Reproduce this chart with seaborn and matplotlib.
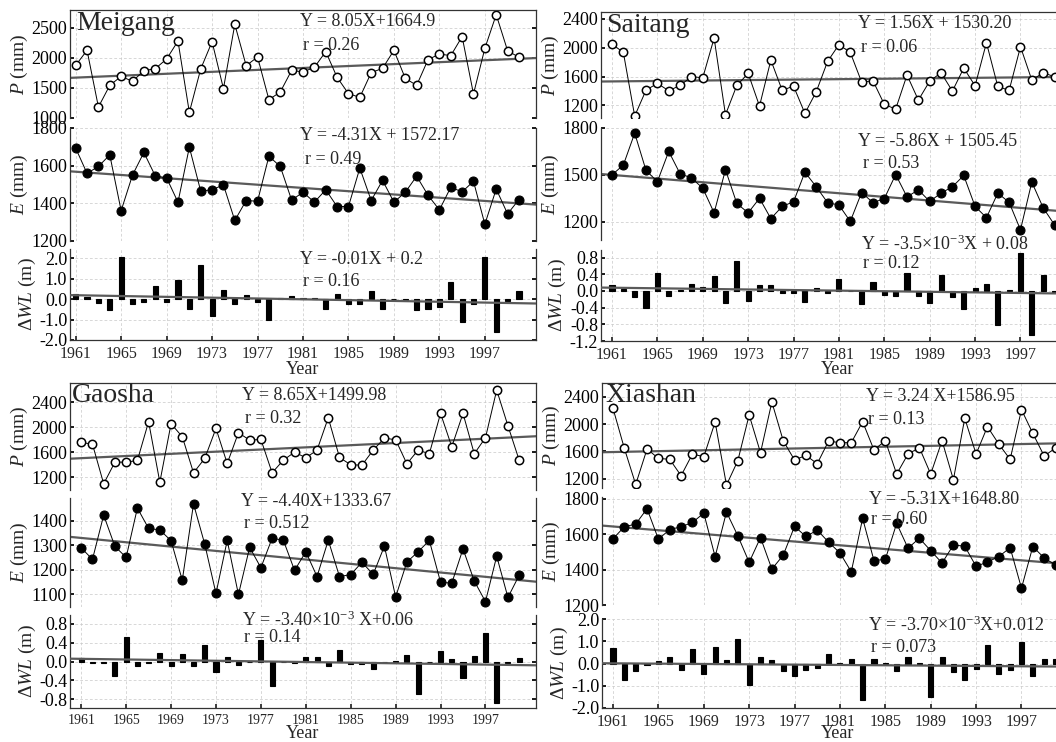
import numpy as np
import pandas as pd
import matplotlib
matplotlib.use('Agg')
import matplotlib.pyplot as plt
from matplotlib.ticker import FormatStrFormatter
import seaborn as sns

# annual series 1961-2000
years = list(range(1961, 2001))

meigang_p = [1878, 2128, 1183, 1544, 1694, 1611, 1789, 1822, 1983, 2283,
             1094, 1817, 2272, 1489, 2561, 1872, 2017, 1306, 1433, 1794,
             1767, 1844, 2106, 1678, 1406, 1344, 1756, 1828, 2128, 1661,
             1544, 1972, 2067, 2039, 2356, 1400, 2161, 2722, 2122, 2011]
meigang_e = [1693, 1559, 1596, 1657, 1361, 1550, 1670, 1546, 1535, 1406,
             1698, 1465, 1472, 1498, 1309, 1415, 1411, 1650, 1596, 1417,
             1459, 1406, 1472, 1383, 1383, 1587, 1415, 1522, 1406, 1459,
             1544, 1443, 1365, 1485, 1461, 1517, 1289, 1476, 1344, 1420]
meigang_wl = [0.25, 0.1, -0.2, -0.55, 2.05, -0.25, -0.15, 0.65, -0.15, 0.95,
              -0.5, 1.65, -0.85, 0.45, -0.25, 0.2, -0.15, -1.0, 0.05, 0.15,
              0.05, 0.05, -0.5, 0.25, -0.25, -0.25, 0.4, -0.5, 0.02, -0.02,
              -0.55, -0.5, -0.4, 0.85, -1.1, -0.25, 2.05, -1.6, -0.1, 0.4]

saitang_p = [2051, 1935, 1050, 1411, 1504, 1402, 1476, 1597, 1583, 2134,
             1068, 1476, 1643, 1189, 1828, 1407, 1467, 1087, 1388, 1810,
             2042, 1935, 1522, 1541, 1212, 1147, 1620, 1272, 1536, 1652,
             1397, 1717, 1471, 2070, 1462, 1407, 2014, 1550, 1652, 1597]
saitang_e = [1500, 1563, 1767, 1528, 1457, 1650, 1507, 1480, 1415, 1257,
             1533, 1317, 1257, 1350, 1220, 1298, 1328, 1517, 1424, 1322,
             1307, 1202, 1387, 1322, 1348, 1502, 1359, 1404, 1330, 1383,
             1424, 1496, 1298, 1226, 1383, 1324, 1148, 1454, 1289, 1180]
saitang_wl = [0.15, 0.05, -0.15, -0.4, 0.42, -0.13, 0.03, 0.16, 0.1, 0.35,
              -0.28, 0.72, -0.25, 0.13, 0.13, -0.04, -0.06, -0.27, 0.07, -0.06,
              0.28, 0.0, -0.32, 0.22, -0.1, -0.12, 0.43, -0.12, -0.3, 0.39,
              -0.15, -0.43, 0.06, 0.17, -0.82, 0.02, 0.9, -1.05, 0.37, -0.02]

gaosha_p = [1760, 1733, 1099, 1445, 1445, 1472, 2091, 1125, 2059, 1851,
            1275, 1504, 1984, 1424, 1915, 1797, 1808, 1275, 1477, 1605,
            1515, 1637, 2155, 1520, 1403, 1397, 1637, 1829, 1803, 1419,
            1637, 1579, 2224, 1691, 2224, 1579, 1835, 2597, 2027, 1477]
gaosha_e = [1289, 1242, 1422, 1295, 1250, 1451, 1368, 1362, 1318, 1157,
            1468, 1304, 1103, 1319, 1099, 1291, 1208, 1328, 1320, 1197,
            1273, 1172, 1320, 1172, 1180, 1230, 1181, 1296, 1089, 1231,
            1273, 1319, 1149, 1145, 1285, 1154, 1070, 1255, 1087, 1177]
gaosha_wl = [0.08, -0.03, -0.04, -0.3, 0.52, -0.1, -0.03, 0.18, -0.1, 0.16,
             -0.1, 0.35, -0.23, 0.1, -0.07, 0.0, 0.46, -0.52, 0.0, -0.03,
             0.1, 0.1, -0.1, 0.25, -0.05, -0.05, -0.15, -0.02, 0.02, 0.14,
             -0.7, -0.02, 0.22, 0.06, -0.35, 0.12, 0.6, -0.88, -0.03, 0.08]

xiashan_p = [2229, 1644, 1117, 1634, 1498, 1483, 1244, 1561, 1522, 2029,
             1107, 1463, 2132, 1580, 2322, 1756, 1473, 1541, 1420, 1751,
             1727, 1727, 2034, 1620, 1756, 1268, 1561, 1654, 1268, 1756,
             1185, 2083, 1561, 1961, 1707, 1483, 2210, 1863, 1532, 1649]
xiashan_e = [1574, 1642, 1657, 1744, 1572, 1626, 1642, 1666, 1719, 1473,
             1725, 1591, 1441, 1581, 1403, 1481, 1644, 1587, 1623, 1555,
             1494, 1388, 1689, 1451, 1458, 1661, 1521, 1577, 1507, 1437,
             1539, 1532, 1418, 1443, 1473, 1524, 1295, 1530, 1466, 1426]
xiashan_wl = [0.7, -0.75, -0.35, -0.08, 0.12, 0.3, -0.3, 0.65, -0.48, 0.72,
              0.15, 1.1, -0.95, 0.28, 0.17, -0.32, -0.55, -0.3, -0.18, 0.43,
              0.02, 0.2, -1.65, 0.2, 0.03, -0.32, 0.28, 0.03, -1.5, 0.3,
              -0.4, -0.75, -0.25, 0.83, -0.45, -0.3, 0.98, -0.55, 0.22, 0.2]

names = ['Meigang', 'Saitang', 'Gaosha', 'Xiashan']

# printed trend equations (X = year index, 1961 -> 1): slope, intercept
trend_p = [(8.05, 1664.9), (1.56, 1530.20), (8.65, 1499.98), (3.24, 1586.95)]
trend_e = [(-4.31, 1572.17), (-5.86, 1505.45), (-4.40, 1333.67), (-5.31, 1648.80)]
trend_wl = [(-0.01, 0.2), (-3.5e-3, 0.08), (-3.40e-3, 0.06), (-3.70e-3, 0.012)]

eq_p = ['Y = 8.05X+1664.9', 'Y = 1.56X + 1530.20', 'Y = 8.65X+1499.98', 'Y = 3.24 X+1586.95']
r_p = ['r = 0.26', 'r = 0.06', 'r = 0.32', 'r = 0.13']
eq_e = ['Y = -4.31X + 1572.17', 'Y = -5.86X + 1505.45', 'Y = -4.40X+1333.67', 'Y = -5.31X+1648.80']
r_e = ['r = 0.49', 'r = 0.53', 'r = 0.512', 'r = 0.60']
eq_wl = ['Y = -0.01X + 0.2', 'Y = -3.5×10$^{-3}$X + 0.08',
         'Y = -3.40×10$^{-3}$ X+0.06', 'Y = -3.70×10$^{-3}$X+0.012']
r_wl = ['r = 0.16', 'r = 0.12', 'r = 0.14', 'r = 0.073']

sns.set_theme(style='ticks')
plt.rcParams['font.family'] = ['Liberation Serif', 'DejaVu Serif']
plt.rcParams['mathtext.fontset'] = 'custom'
plt.rcParams['mathtext.rm'] = 'Liberation Serif'
plt.rcParams['mathtext.it'] = 'Liberation Serif:italic'
plt.rcParams['axes.unicode_minus'] = False

W, H = 1056, 742
fig = plt.figure(figsize=(W / 100, H / 100), dpi=100)


def box(l, t, r, b):
    return fig.add_axes([l / W, 1 - b / H, (r - l) / W, (b - t) / H])


# layout (pixels): left, right, rows (top, bottom), xlim, ylims, yticks, text anchors
layout = [
    dict(l=70, r=536, rows=[(10, 118), (128, 241), (249, 340)], xlim=(1960.5, 2001.5),
         ylim=[(1000, 2800), (1200, 1800), (-2.0, 2.45)],
         yt=[np.arange(1000, 2501, 500), np.arange(1200, 1801, 200), np.arange(-2, 2.01, 1)],
         name=(76, 24), eq=[(300, 22, 303, 45), (300, 136, 305, 159), (300, 259, 303, 281)],
         year=(303, 369), xts=11.5),
    dict(l=601, r=1067, rows=[(12, 118), (128, 240), (250, 341)], xlim=(1960.03, 2001.1),
         ylim=[(1023, 2497), (1083, 1800), (-1.2, 0.98)],
         yt=[np.arange(1200, 2401, 400), np.arange(1200, 1801, 300), np.arange(-1.2, 0.81, 0.4)],
         name=(606, 26), eq=[(858, 23, 861, 48), (858, 141, 863, 163), (861, 244, 863, 263)],
         year=(838, 369), xts=11.5),
    dict(l=70, r=536, rows=[(383, 490), (498, 607), (615, 708)], xlim=(1960.0, 2001.5),
         ylim=[(1000, 2710), (1048, 1492), (-0.99, 0.99)],
         yt=[np.arange(1200, 2401, 400), np.arange(1100, 1401, 100), np.arange(-0.8, 0.81, 0.4)],
         name=(72, 396), eq=[(242, 395, 245, 418), (241, 502, 244, 524), (242, 620, 244, 637)],
         year=(303, 733), xts=10),
    dict(l=602, r=1068, rows=[(383, 488), (497, 605), (619, 708)], xlim=(1960.03, 2001.1),
         ylim=[(1064, 2600), (1200, 1810), (-2.0, 2.0)],
         yt=[np.arange(1200, 2401, 400), np.arange(1200, 1801, 200), np.arange(-2, 2.01, 1)],
         name=(605, 396), eq=[(866, 397, 868, 420), (869, 500, 871, 520), (868, 625, 871, 647)],
         year=(838, 734), xts=11.5),
]

series = [(meigang_p, meigang_e, meigang_wl), (saitang_p, saitang_e, saitang_wl),
          (gaosha_p, gaosha_e, gaosha_wl), (xiashan_p, xiashan_e, xiashan_wl)]
ylabels = ['$P$ (mm)', '$E$ (mm)', '$\\mathit{ΔWL}$ (m)']
xticks = list(range(1961, 1998, 4))

for i, lay in enumerate(layout):
    p, e, wl = series[i]
    trends = [trend_p[i], trend_e[i], trend_wl[i]]
    eqs = [(eq_p[i], r_p[i]), (eq_e[i], r_e[i]), (eq_wl[i], r_wl[i])]
    for j, (t, b) in enumerate(lay['rows']):
        ax = box(lay['l'], t, lay['r'], b)
        ax.set_axisbelow(True)
        xs = np.array(lay['xlim'])
        k, c = trends[j]
        if j == 0:
            ax.plot(xs, k * (xs - 1960) + c, color='#5a5a5a', lw=1.6, zorder=1)
            sns.lineplot(x=years, y=p, ax=ax, color='black', lw=0.7, marker='o',
                         markersize=6, markerfacecolor='white', markeredgecolor='black',
                         markeredgewidth=1.1, zorder=2)
        elif j == 1:
            ax.plot(xs, k * (xs - 1960) + c, color='#5a5a5a', lw=1.6, zorder=1)
            sns.lineplot(x=years, y=e, ax=ax, color='black', lw=0.7, marker='o',
                         markersize=6.5, markerfacecolor='black', markeredgecolor='black',
                         zorder=2)
        else:
            sns.barplot(x=years, y=wl, ax=ax, native_scale=True, width=0.45,
                        color='black', saturation=1, errorbar=None,
                        edgecolor='black', linewidth=0.8, zorder=2)
            ax.plot(xs, k * (xs - 1960) + c, color='#5a5a5a', lw=1.6, zorder=3)
        ax.set_xlim(*lay['xlim'])
        ax.set_ylim(*lay['ylim'][j])
        ax.set_yticks(lay['yt'][j])
        ax.set_xticks(xticks)
        if j == 2:
            ax.yaxis.set_major_formatter(FormatStrFormatter('%.1f'))
        else:
            ax.yaxis.set_major_formatter(FormatStrFormatter('%d'))
        ax.grid(True, ls=(0, (4, 3)), lw=0.5, color='#c8c8c8')
        ax.set_xlabel('')
        ax.set_ylabel(ylabels[j], fontsize=14, labelpad=1)
        ax.tick_params(axis='y', labelsize=13, direction='in', length=3, pad=2,
                       right=True, colors='black')
        for side in ['left', 'right', 'top', 'bottom']:
            ax.spines[side].set_color('#333333')
            ax.spines[side].set_linewidth(0.9)
        ax.spines['top'].set_visible(j == 0)
        ax.spines['bottom'].set_visible(j == 2)
        if j == 2:
            ax.tick_params(axis='x', labelsize=lay['xts'], direction='in', length=3, pad=4)
        else:
            ax.tick_params(axis='x', length=0, labelbottom=False)
        ax.set_facecolor('white')
        ex, ey, rx, ry = lay['eq'][j]
        fig.text(ex / W, 1 - ey / H, eqs[j][0], fontsize=13, va='center', ha='left')
        fig.text(rx / W, 1 - ry / H, eqs[j][1], fontsize=13, va='center', ha='left')
    fig.text(lay['name'][0] / W, 1 - lay['name'][1] / H, names[i], fontsize=20,
             va='center', ha='left')
    fig.text(lay['year'][0] / W, 1 - lay['year'][1] / H, 'Year', fontsize=13,
             va='center', ha='center')

fig.savefig('out.png', dpi=100)
